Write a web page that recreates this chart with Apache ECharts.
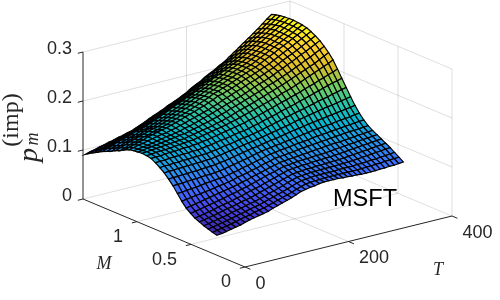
<!DOCTYPE html>
<html>
<head>
<meta charset="utf-8">
<style>html,body{margin:0;padding:0;background:#fff}#c{width:500px;height:300px}</style>
<script src="https://cdn.jsdelivr.net/npm/echarts@6/dist/echarts.min.js"></script>
</head>
<body>
<div id="c"></div>
<script>
const zTicks = [0, 0.1, 0.2, 0.3];
const zTickLabels = ['0', '0.1', '0.2', '0.3'];
const mTicks = [0, 0.5, 1];
const mTickLabels = ['0', '0.5', '1'];
const tTicks = [0, 200, 400];
const tTickLabels = ['0', '200', '400'];
const tValues = [4,13,22,31,40,49,58,67,76,85,94,103,112,121,130,139,148,157,166,175,184,193,202,211,220,229,238,247,256,265,274,283,292,301,310,319,328,337,346,355,364];
const mValues = [0.278,0.319,0.359,0.4,0.441,0.482,0.522,0.563,0.604,0.644,0.685,0.726,0.766,0.807,0.848,0.888,0.929,0.97,1.011,1.051,1.092,1.133,1.173,1.214,1.255,1.295,1.336,1.377,1.418,1.458,1.499];
// p_m (imp) in thousandths: one row per M value, one column per T value
const pByM = [
[38,39,41,43,45,47,50,53,55,57,59,61,65,68,71,74,77,81,85,87,89,90,92,93,93,93,93,92,92,91,91,90,90,90,90,91,91,92,92,93,94],
[40,42,44,46,48,50,53,55,57,60,62,64,67,70,73,76,79,82,86,89,92,93,94,94,95,95,95,95,95,95,95,95,95,96,96,97,97,98,99,99,100],
[43,45,47,49,51,53,56,58,60,63,65,67,70,73,76,79,82,85,89,92,95,96,97,98,98,98,98,98,99,99,99,99,100,100,101,102,102,103,104,105,106],
[46,48,50,52,54,56,59,61,63,66,68,70,73,76,79,82,85,88,92,95,98,99,100,101,101,102,102,102,102,103,103,104,104,105,106,107,108,109,110,111,112],
[50,52,54,56,58,61,63,65,67,70,72,74,77,80,83,86,89,92,95,98,101,102,103,104,104,105,105,106,106,107,107,108,109,110,111,112,113,114,115,116,117],
[54,56,58,60,62,65,67,69,71,74,76,79,82,84,87,90,93,96,99,102,105,106,107,108,108,109,110,110,111,111,112,113,114,115,116,117,118,119,120,121,122],
[60,62,64,66,68,70,72,74,77,79,81,84,86,89,92,95,98,101,103,106,109,110,111,112,113,113,114,115,115,116,117,118,119,120,121,122,123,124,125,126,127],
[67,69,71,73,75,77,79,81,83,85,87,89,92,94,97,100,102,105,108,110,113,114,115,116,117,118,119,120,121,122,123,124,125,125,126,127,128,129,130,131,132],
[77,79,80,82,83,85,86,88,90,91,93,95,98,100,102,105,107,110,113,115,118,119,120,121,122,124,125,126,127,128,129,130,131,132,133,134,135,135,136,137,138],
[89,90,91,92,93,94,96,97,98,99,100,102,104,106,109,111,113,116,118,121,123,124,126,127,128,130,131,132,133,135,136,137,138,139,140,141,142,143,144,145,146],
[101,102,102,103,104,104,105,106,106,107,108,110,112,114,116,118,120,123,125,127,129,130,132,133,135,136,138,139,141,142,144,145,146,147,148,150,151,152,153,155,156],
[111,112,112,113,113,114,114,115,116,116,117,119,120,122,124,126,128,130,132,133,135,137,139,140,142,144,146,148,149,151,153,154,156,157,159,160,162,163,165,166,168],
[120,121,121,122,122,123,123,124,124,125,125,127,128,130,132,133,135,137,139,140,142,144,146,148,150,152,154,156,159,161,163,165,167,169,171,173,174,176,178,180,182],
[127,128,128,129,129,130,130,131,131,132,132,134,135,137,139,140,142,144,146,147,149,151,153,156,158,161,163,166,168,171,173,175,178,180,183,185,187,190,192,195,197],
[133,134,134,135,136,136,137,137,138,138,139,141,142,144,146,147,149,151,153,154,156,159,161,164,167,169,172,175,178,180,183,186,189,192,195,198,201,204,207,209,212],
[138,139,139,140,141,141,142,143,143,144,145,147,148,150,152,154,156,158,160,162,164,167,169,172,175,178,181,184,187,190,193,196,199,203,206,209,213,216,220,223,227],
[140,141,142,143,143,144,145,146,147,148,149,151,153,155,157,159,161,163,166,168,171,174,177,180,183,186,189,192,195,199,202,205,209,213,217,221,225,229,233,237,242],
[141,142,143,144,145,146,147,148,149,150,152,154,156,158,160,162,165,167,170,173,177,180,183,186,189,193,196,200,203,207,210,214,218,222,226,230,234,238,243,248,253],
[140,141,143,144,145,147,148,150,151,153,154,156,159,161,164,166,169,172,175,178,182,185,188,192,195,199,202,206,210,213,217,221,225,229,234,238,243,247,252,257,262],
[139,140,142,143,145,147,149,151,152,154,156,159,161,164,167,170,173,176,180,183,187,190,193,196,200,204,208,212,215,219,223,228,232,237,241,246,251,255,260,265,270],
[137,139,142,143,146,148,150,152,153,156,158,161,164,167,170,173,176,179,183,186,191,194,198,202,205,209,213,216,220,224,228,232,237,242,247,251,256,261,266,271,276],
[133,136,139,142,144,148,150,153,155,157,160,163,166,170,173,176,180,183,187,191,196,198,202,205,209,213,217,220,224,228,232,236,241,246,251,256,261,266,271,276,281],
[128,131,135,138,141,144,146,150,152,155,158,162,165,169,172,176,180,184,188,192,197,200,204,207,211,215,219,223,227,230,235,240,245,250,255,260,265,270,275,280,285],
[124,128,131,135,138,141,144,147,150,152,156,159,163,167,171,175,179,183,188,191,196,199,204,207,212,215,220,223,228,231,236,241,246,251,256,261,266,271,276,282,287],
[119,123,126,130,133,136,139,143,146,148,152,156,160,164,168,172,177,181,186,189,194,198,202,206,211,214,219,223,227,231,236,241,246,251,256,261,267,272,277,283,288],
[115,119,122,126,129,132,135,139,141,144,148,152,156,160,165,169,174,178,183,186,191,195,200,204,209,213,218,222,227,230,235,240,245,251,256,262,267,272,278,283,289],
[111,115,118,122,125,128,131,135,137,140,144,148,152,157,161,166,170,174,179,182,187,191,196,201,206,210,215,219,224,228,233,239,244,250,255,261,266,272,278,283,289],
[106,109,112,115,119,121,124,127,129,133,136,140,144,149,153,158,162,167,171,175,179,185,190,195,199,204,209,214,219,224,229,235,241,246,252,258,264,270,276,282,288],
[101,104,106,109,112,115,118,120,123,125,128,133,137,141,146,150,155,159,164,168,173,178,183,188,193,198,203,208,214,219,224,230,236,242,249,255,261,268,274,281,287],
[96,99,101,104,106,109,112,114,117,119,122,126,130,135,139,143,148,152,156,161,165,170,176,181,186,192,197,202,207,213,218,224,231,237,244,250,257,264,271,278,285],
[90,93,95,98,100,103,105,108,110,113,115,119,123,127,132,136,140,144,149,153,157,162,167,173,178,183,189,194,199,205,210,217,224,231,238,245,252,259,267,275,282]
];
const parula = ['#3E26A8','#4747EB','#3E6FFF','#2796EB','#08B5D0','#31C69F','#80CC59','#DCBD29','#FCCF30','#F9FB15'];
const tMax = 400, mMax = 1.5, zMax = 0.3;

// orthographic view of the box, in canvas pixels
const view = { x0: 245, y0: 267, xT: 0.5175, yT: 0.1275, xM: 108, yM: 45.33, yZ: 490 };
const proj = (T, M, z) => [view.x0 + T * view.xT - M * view.xM, view.y0 - T * view.yT - M * view.yM - z * view.yZ];

const flat = pByM.flat();
const zLo = Math.min(...flat), zHi = Math.max(...flat);

// cells painted back to front
const cells = [];
for (let i = tValues.length - 2; i >= 0; i--) {
  for (let j = mValues.length - 2; j >= 0; j--) {
    const mean = (pByM[j][i] + pByM[j + 1][i] + pByM[j][i + 1] + pByM[j + 1][i + 1]) / 4;
    cells.push([i, j, mean]);
  }
}

const walls = [];
zTicks.forEach(z => {
  walls.push([0, mMax, z, tMax, mMax, z]);
  walls.push([tMax, mMax, z, tMax, 0, z]);
});
[200].forEach(T => walls.push([T, mMax, 0, T, mMax, zMax], [T, 0, 0, T, mMax, 0]));
walls.push([tMax, mMax, 0, tMax, mMax, zMax], [tMax, 0, 0, tMax, 0, zMax]);
mTicks.filter(m => m > 0).forEach(M => walls.push([tMax, M, 0, tMax, M, zMax], [0, M, 0, tMax, M, 0]));

const axisLines = [
  [0, mMax, 0, 0, mMax, zMax],
  [0, 0, 0, 0, mMax, 0],
  [0, 0, 0, tMax, 0, 0]
];
const tickLenT = 10, tickLenM = 0.05;
zTicks.forEach(z => axisLines.push([0, mMax, z, -tickLenT, mMax, z]));
mTicks.forEach(M => axisLines.push([0, M, 0, -tickLenT, M, 0]));
tTicks.forEach(T => axisLines.push([T, 0, 0, T, -tickLenM, 0]));

const labels = [];
zTicks.forEach((z, k) => labels.push([0, mMax, z, zTickLabels[k], 'right', -11, -3]));
mTicks.forEach((M, k) => labels.push([0, M, 0, mTickLabels[k], 'right', -14, 15.5]));
tTicks.forEach((T, k) => labels.push([T, 0, 0, tTickLabels[k], 'left', 10.5, 17]));

const seg = (color, width) => (params, api) => {
  const a = api.coord(proj(api.value(0), api.value(1), api.value(2)));
  const b = api.coord(proj(api.value(3), api.value(4), api.value(5)));
  return { type: 'line', shape: { x1: a[0], y1: a[1], x2: b[0], y2: b[1] }, style: { stroke: color, lineWidth: width, fill: null } };
};

const option = {
  animation: false,
  backgroundColor: '#fff',
  grid: { left: 0, right: 0, top: 0, bottom: 0 },
  xAxis: { type: 'value', min: 0, max: 500, show: false },
  yAxis: { type: 'value', min: 0, max: 300, inverse: true, show: false },
  series: [
    { type: 'custom', silent: true, clip: false, z: 1, coordinateSystem: 'cartesian2d', data: walls, renderItem: seg('rgba(38,38,38,0.15)', 1) },
    { type: 'custom', silent: true, clip: false, z: 2, coordinateSystem: 'cartesian2d', data: axisLines, renderItem: seg('#262626', 1) },
    {
      type: 'custom', silent: true, clip: false, z: 3, coordinateSystem: 'cartesian2d', progressive: 0, data: cells,
      renderItem: (params, api) => {
        const i = api.value(0), j = api.value(1), v = api.value(2);
        const corners = [[i, j], [i + 1, j], [i + 1, j + 1], [i, j + 1]];
        const points = corners.map(c => api.coord(proj(tValues[c[0]], mValues[c[1]], pByM[c[1]][c[0]] / 1000)));
        const fill = echarts.color.lerp((v - zLo) / (zHi - zLo), parula);
        return { type: 'polygon', shape: { points }, style: { fill, stroke: '#000', lineWidth: 1.2 } };
      }
    },
    {
      type: 'custom', silent: true, clip: false, z: 4, coordinateSystem: 'cartesian2d', data: labels,
      renderItem: (params, api) => {
        const d = labels[params.dataIndex];
        const p = api.coord(proj(d[0], d[1], d[2]));
        return { type: 'text', x: p[0] + d[5], y: p[1] + d[6], style: { text: d[3], fill: '#262626', font: '18px "Liberation Sans"', align: d[4], verticalAlign: 'middle' } };
      }
    }
  ],
  graphic: [
    { type: 'text', z: 10, x: 104, y: 264, style: { text: 'M', fill: '#262626', font: 'italic 18px "Liberation Serif"', align: 'center', verticalAlign: 'middle' } },
    { type: 'text', z: 10, x: 438, y: 270, style: { text: 'T', fill: '#262626', font: 'italic 18px "Liberation Serif"', align: 'center', verticalAlign: 'middle' } },
    { type: 'text', z: 10, x: 365, y: 200, style: { text: 'MSFT', fill: '#000', font: '23.5px "Liberation Sans"', align: 'center', verticalAlign: 'middle' } },
    { type: 'text', z: 10, x: 12, y: 120, rotation: Math.PI / 2, style: { text: '(imp)', fill: '#262626', font: '24px "Liberation Serif"', align: 'center', verticalAlign: 'middle' } },
    { type: 'text', z: 10, x: 30, y: 155, rotation: Math.PI / 2, style: { text: 'p', fill: '#262626', font: 'italic 28px "Liberation Serif"', align: 'center', verticalAlign: 'middle' } },
    { type: 'text', z: 10, x: 33, y: 139, rotation: Math.PI / 2, style: { text: 'm', fill: '#262626', font: 'italic 18px "Liberation Serif"', align: 'center', verticalAlign: 'middle' } }
  ]
};
echarts.init(document.getElementById('c'), null, { renderer: 'canvas' }).setOption(option);
</script>
</body>
</html>
